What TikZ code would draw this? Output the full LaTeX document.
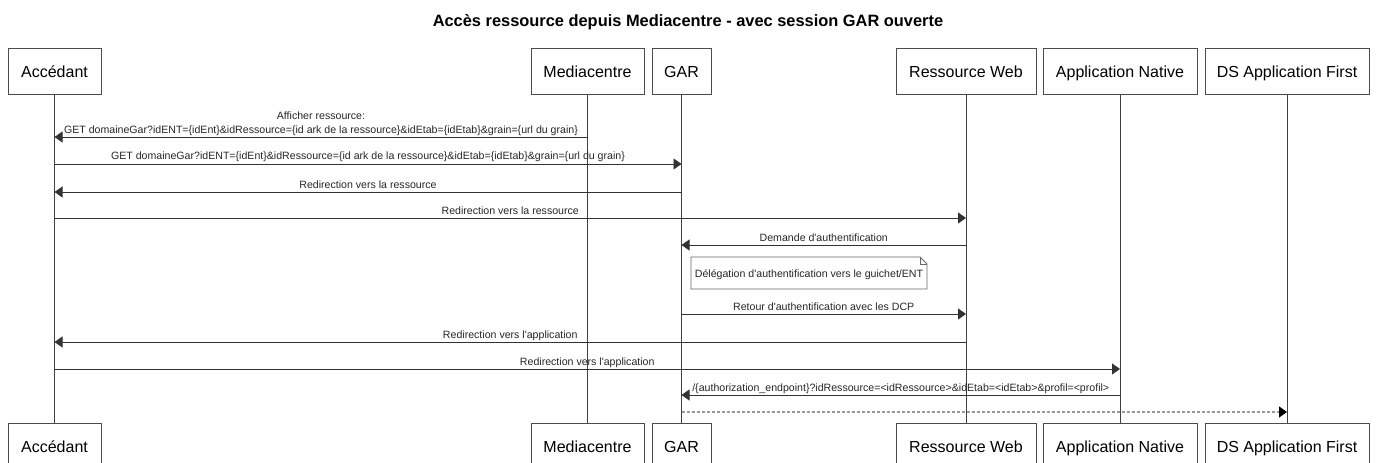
\documentclass[tikz,border=0pt]{standalone}
\usepackage{fontspec}
\setmainfont{Liberation Sans}[Ligatures=TeXOff]
\usetikzlibrary{arrows.meta,calc}
\begin{document}
\begin{tikzpicture}[x=1pt,y=-1pt,
  actor/.style={draw=black!70,line width=0.9pt,fill=white,minimum height=46pt,inner sep=0pt,
    text height=11.5pt,text depth=0pt,font=\fontsize{16}{18}\selectfont},
  life/.style={draw=black!75,line width=0.9pt},
  msg/.style={draw=black!80,line width=0.9pt,-{Triangle[length=8pt,width=11pt]}},
  reply/.style={draw=black!40,line width=1.3pt,dash pattern=on 3pt off 2pt,
    -{Triangle[length=8pt,width=11pt,fill=black,color=black]}},
  lbl/.style={inner sep=0pt,anchor=base,font=\fontsize{10.6}{13.5}\selectfont,text=black!85},
  notebox/.style={draw=black!60,line width=0.9pt,fill=white}
]
\useasboundingbox (0,0) rectangle (1376,463);
\node[font=\bfseries\fontsize{16.4}{18}\selectfont,anchor=base,inner sep=0pt] (title) at (688,26) {Accès ressource depuis Mediacentre - avec session GAR ouverte};

% top actors
\node[actor,minimum width=93pt,anchor=north] (a1) at (54.5,48) {Accédant};
\node[actor,minimum width=113pt,anchor=north] (a2) at (587.5,48) {Mediacentre};
\node[actor,minimum width=59pt,anchor=north] (a3) at (681.5,48) {GAR};
\node[actor,minimum width=140pt,anchor=north] (a4) at (966,48) {Ressource Web};
\node[actor,minimum width=154pt,anchor=north] (a5) at (1120,48) {Application Native};
\node[actor,minimum width=164pt,anchor=north] (a6) at (1287,48) {DS Application First};
% bottom actors
\node[actor,minimum width=93pt,anchor=north] (b1) at (54.5,423) {Accédant};
\node[actor,minimum width=113pt,anchor=north] (b2) at (587.5,423) {Mediacentre};
\node[actor,minimum width=59pt,anchor=north] (b3) at (681.5,423) {GAR};
\node[actor,minimum width=140pt,anchor=north] (b4) at (966,423) {Ressource Web};
\node[actor,minimum width=154pt,anchor=north] (b5) at (1120,423) {Application Native};
\node[actor,minimum width=164pt,anchor=north] (b6) at (1287,423) {DS Application First};

% lifelines
\foreach \i in {1,...,6} {\draw[life] (a\i.south) -- (b\i.north);}

% row coordinates
\coordinate (r1) at (0,137);
\coordinate (r2) at (0,164);
\coordinate (r3) at (0,192);
\coordinate (r4) at (0,218);
\coordinate (r5) at (0,245);
\coordinate (r7) at (0,314);
\coordinate (r8) at (0,342);
\coordinate (r9) at (0,369);
\coordinate (r10) at (0,395);
\coordinate (r11) at (0,412);

% messages
\draw[msg] (a2 |- r1) -- (a1 |- r1);
\node[lbl] (t1b) at ($(a2 |- r1)!0.5!(a1 |- r1)+(0,-4)$) {GET domaineGar?idENT=\{idEnt\}\&idRessource=\{id ark de la ressource\}\&idEtab=\{idEtab\}\&grain=\{url du grain\}};
\node[lbl] (t1a) at ($(t1b.base)+(0,-13.5)$) {Afficher ressource:};

\draw[msg] (a1 |- r2) -- (a3 |- r2);
\node[lbl] (t2) at ($(a1 |- r2)!0.5!(a3 |- r2)+(0,-5)$) {GET domaineGar?idENT=\{idEnt\}\&idRessource=\{id ark de la ressource\}\&idEtab=\{idEtab\}\&grain=\{url du grain\}};

\draw[msg] (a3 |- r3) -- (a1 |- r3);
\node[lbl] (t3) at ($(a3 |- r3)!0.5!(a1 |- r3)+(0,-4)$) {Redirection vers la ressource};

\draw[msg] (a1 |- r4) -- (a4 |- r4);
\node[lbl] (t4) at ($(a1 |- r4)!0.5!(a4 |- r4)+(0,-4)$) {Redirection vers la ressource};

\draw[msg] (a4 |- r5) -- (a3 |- r5);
\node[lbl] (t5) at ($(a4 |- r5)!0.5!(a3 |- r5)+(0,-4)$) {Demande d'authentification};

% note
\draw[notebox] (691,257) -- (920,257) -- (927,264) -- (927,289) -- (691,289) -- cycle;
\draw[draw=black!60,line width=0.9pt] (920,257) -- (920,264) -- (927,264);
\node[lbl] (note) at (809,277) {Délégation d'authentification vers le guichet/ENT};

\draw[msg] (a3 |- r7) -- (a4 |- r7);
\node[lbl] (t7) at ($(a3 |- r7)!0.5!(a4 |- r7)+(0,-4)$) {Retour d'authentification avec les DCP};

\draw[msg] (a4 |- r8) -- (a1 |- r8);
\node[lbl] (t8) at ($(a4 |- r8)!0.5!(a1 |- r8)+(0,-4)$) {Redirection vers l'application};

\draw[msg] (a1 |- r9) -- (a5 |- r9);
\node[lbl] (t9) at ($(a1 |- r9)!0.5!(a5 |- r9)+(0,-4)$) {Redirection vers l'application};

\draw[msg] (a5 |- r10) -- (a3 |- r10);
\node[lbl] (t10) at ($(a5 |- r10)!0.5!(a3 |- r10)+(0,-4)$) {/\{authorization\_endpoint\}?idRessource=<idRessource>\&idEtab=<idEtab>\&profil=<profil>};

\draw[reply] (a3 |- r11) -- (a6 |- r11);
\end{tikzpicture}
\end{document}
